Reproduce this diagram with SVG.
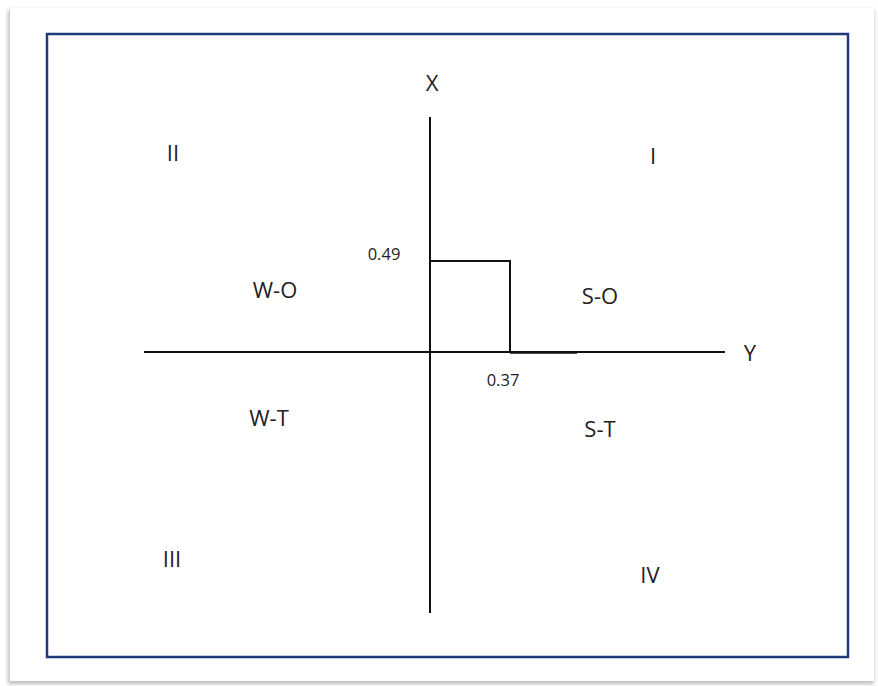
<svg xmlns="http://www.w3.org/2000/svg" width="878" height="686" viewBox="0 0 878 686">
<defs>
<filter id="sh" x="-5%" y="-5%" width="110%" height="110%">
<feGaussianBlur stdDeviation="2"/>
</filter>
<style>
.lbl{font-family:"Open Sans","Liberation Sans",sans-serif;font-size:22px;fill:#222;text-anchor:middle}
.num{font-family:"Open Sans","Liberation Sans",sans-serif;font-size:16.5px;fill:#222;text-anchor:middle}
.ax{stroke:#111;stroke-width:2;fill:none}
</style>
</defs>
<rect width="878" height="686" fill="#fff"/>
<rect x="8" y="10" width="866" height="674" fill="#bbb" filter="url(#sh)"/>
<rect x="10" y="8" width="864" height="673" fill="#fff"/>
<rect x="47" y="34" width="801" height="623" fill="#fff" stroke="#1f3a78" stroke-width="2.5"/>
<g id="connectors">
<line class="ax" x1="430" y1="117" x2="430" y2="613"/>
<line class="ax" x1="144" y1="352" x2="725" y2="352"/>
<polyline class="ax" points="430,261 510,261 510,352"/>
<line x1="510" y1="352.5" x2="577" y2="352.5" stroke="#111" stroke-width="2.5"/>
</g>
<g id="labels">
<text class="lbl" x="432" y="91">X</text>
<text class="lbl" x="750" y="361">Y</text>
<text class="lbl" x="173" y="161">II</text>
<text class="lbl" x="653" y="164">I</text>
<text class="lbl" x="172" y="567">III</text>
<text class="lbl" x="650" y="583">IV</text>
<text class="lbl" x="275" y="298">W-O</text>
<text class="lbl" x="600" y="304">S-O</text>
<text class="lbl" x="269" y="426">W-T</text>
<text class="lbl" x="600" y="437">S-T</text>
<text class="num" x="384" y="260">0.49</text>
<text class="num" x="503" y="386">0.37</text>
</g>
</svg>
